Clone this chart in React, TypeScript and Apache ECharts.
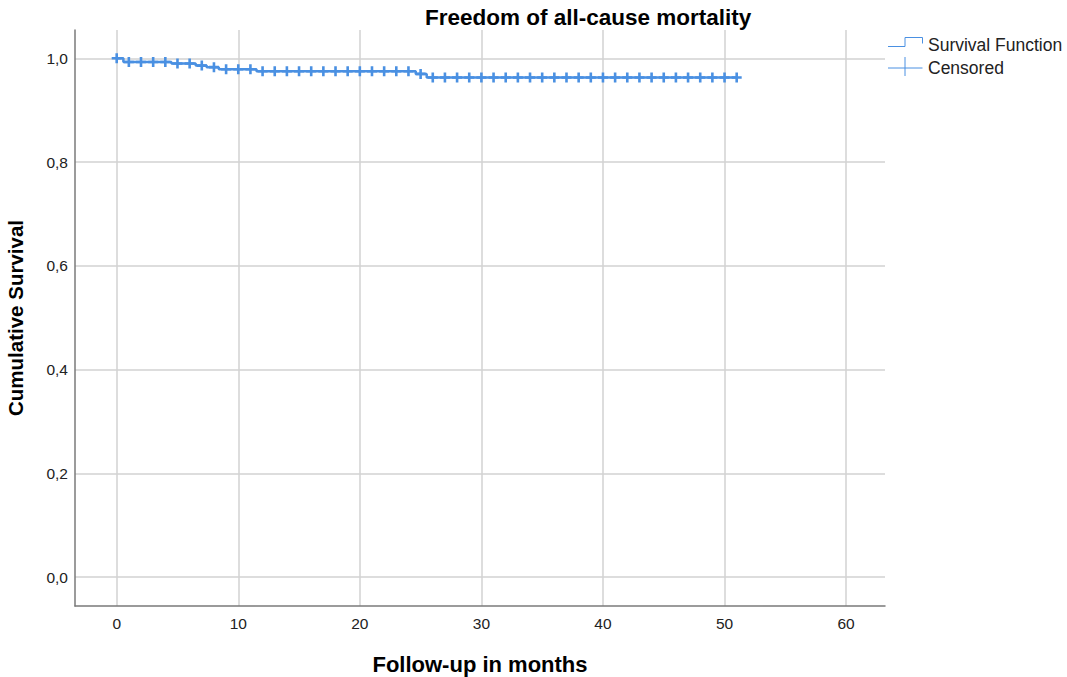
import React, { useEffect, useRef } from "react";
import * as echarts from "echarts";

// ---- data ----
const stepTimes = [0, 0.55, 4.5, 6.5, 7.4, 8.4, 11.5, 24.6, 25.5, 51];
const stepSurvival = [1.0, 0.993, 0.99, 0.986, 0.983, 0.979, 0.975, 0.97, 0.963, 0.963];
const censorTimes = [
  0, 1, 2, 3, 4, 5, 6, 7, 8, 9, 10, 11, 12, 13, 14, 15, 16, 17, 18, 19, 20,
  21, 22, 23, 24, 25, 26, 27, 28, 29, 30, 31, 32, 33, 34, 35, 36, 37, 38, 39,
  40, 41, 42, 43, 44, 45, 46, 47, 48, 49, 50, 51,
];
const xTickValues = [0, 10, 20, 30, 40, 50, 60];
const yTickValues = [0, 0.2, 0.4, 0.6, 0.8, 1.0];
const titleText = "Freedom of all-cause mortality";
const xName = "Follow-up in months";
const yName = "Cumulative Survival";
const legendLabels = ["Survival Function", "Censored"];

const BLUE = "#4a90e2";
const FONT = "Liberation Sans, Arial, sans-serif";

function survivalAt(t: number): number {
  let s = stepSurvival[0];
  for (let i = 0; i < stepTimes.length; i++) {
    if (stepTimes[i] <= t) s = stepSurvival[i];
  }
  return s;
}

function isTick(v: number, list: number[]) {
  return list.some((t) => Math.abs(t - v) < 1e-6);
}

export default function App() {
  const ref = useRef<HTMLDivElement>(null);
  useEffect(() => {
    document.body.style.margin = "0";
    const chart = echarts.init(ref.current!, undefined, { renderer: "svg" });
    const lineData = stepTimes.map((t, i) => [t, stepSurvival[i]]);
    const censorData = censorTimes.map((t) => [t, survivalAt(t)]);
    chart.setOption({
      animation: false,
      backgroundColor: "#ffffff",
      title: {
        text: titleText,
        left: 420,
        top: 1,
        textStyle: { fontFamily: FONT, fontSize: 22.5, fontWeight: "bold", color: "#000" },
      },
      grid: {
        left: 75,
        right: 182,
        top: 30,
        bottom: 71,
        containLabel: false,
        outerBoundsMode: "none",
      },
      xAxis: {
        type: "value",
        min: -3.43,
        max: 63.2,
        minInterval: 10,
        maxInterval: 10,
        name: xName,
        nameLocation: "middle",
        nameGap: 47,
        nameTextStyle: { fontFamily: FONT, fontSize: 22, fontWeight: "bold", color: "#000" },
        axisLine: { show: true, onZero: false, lineStyle: { color: "#7a7a7a", width: 1.5 } },
        axisTick: { show: false },
        axisLabel: {
          showMinLabel: false,
          showMaxLabel: false,
          margin: 9,
          fontFamily: FONT,
          fontSize: 15.5,
          color: "#222",
          formatter: (v: number) => (isTick(v, xTickValues) ? String(Math.round(v)) : ""),
        },
        splitLine: {
          show: true,
          showMinLine: false,
          showMaxLine: false,
          lineStyle: { color: "#d2d2d2", width: 1.5 },
        },
      },
      yAxis: {
        type: "value",
        min: -0.0559,
        max: 1.0546,
        minInterval: 0.2,
        maxInterval: 0.2,
        name: yName,
        nameLocation: "middle",
        nameGap: 49,
        nameTextStyle: { fontFamily: FONT, fontSize: 20.5, fontWeight: "bold", color: "#000" },
        axisLine: { show: true, onZero: false, lineStyle: { color: "#7a7a7a", width: 1.5 } },
        axisTick: { show: false },
        axisLabel: {
          showMinLabel: false,
          showMaxLabel: false,
          margin: 7,
          fontFamily: FONT,
          fontSize: 15.5,
          color: "#222",
          formatter: (v: number) =>
            isTick(v, yTickValues) ? (Math.abs(v) < 1e-9 ? 0 : v).toFixed(1).replace(".", ",") : "",
        },
        splitLine: {
          show: true,
          showMinLine: false,
          showMaxLine: false,
          lineStyle: { color: "#d2d2d2", width: 1.5 },
        },
      },
      graphic: [
        {
          type: "polyline",
          shape: { points: [[888, 46.5], [905, 46.5], [905, 37.5], [922.5, 37.5], [922.5, 43.5]] },
          style: { stroke: BLUE, lineWidth: 1, fill: "none" },
        },
        {
          type: "line",
          shape: { x1: 888, y1: 68, x2: 922.5, y2: 68 },
          style: { stroke: BLUE, lineWidth: 1 },
        },
        {
          type: "line",
          shape: { x1: 905, y1: 57, x2: 905, y2: 76 },
          style: { stroke: BLUE, lineWidth: 1 },
        },
        {
          type: "text",
          x: 928,
          y: 45,
          style: {
            text: legendLabels[0],
            fontFamily: FONT,
            fontSize: 17.5,
            fill: "#222",
            verticalAlign: "middle",
          },
        },
        {
          type: "text",
          x: 928,
          y: 68,
          style: {
            text: legendLabels[1],
            fontFamily: FONT,
            fontSize: 17.5,
            fill: "#222",
            verticalAlign: "middle",
          },
        },
      ],
      series: [
        {
          name: legendLabels[0],
          type: "line",
          step: "end",
          data: lineData,
          symbol: "none",
          lineStyle: { color: BLUE, width: 2.5 },
          z: 2,
        },
        {
          name: legendLabels[1],
          type: "scatter",
          data: censorData,
          symbol: "path://M3.7,0H6.3V3.7H10V6.3H6.3V10H3.7V6.3H0V3.7H3.7Z",
          symbolSize: [10, 10],
          itemStyle: { color: BLUE, opacity: 1 },
          z: 3,
        },
      ],
    });
    return () => chart.dispose();
  }, []);
  return <div ref={ref} style={{ width: 1067, height: 677 }} />;
}
